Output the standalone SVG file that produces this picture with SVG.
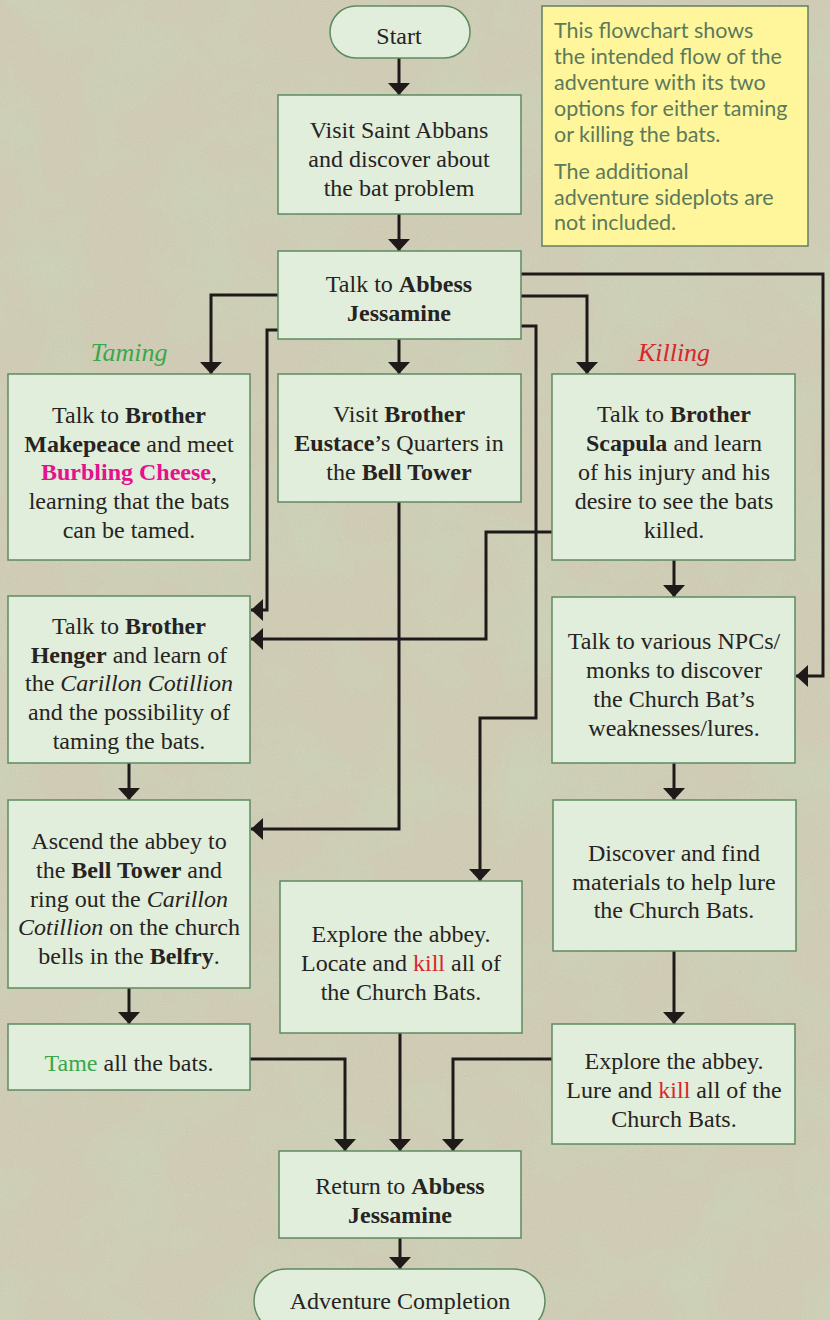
<svg xmlns="http://www.w3.org/2000/svg" width="830" height="1320" viewBox="0 0 830 1320">
<style>
.box{fill:#e0eedb;stroke:#5e8a60;stroke-width:1.5}
.note{fill:#fff59b;stroke:#628062;stroke-width:1.5}
.t{font-family:"Liberation Serif","DejaVu Serif",serif;font-size:24px;fill:#272322;text-anchor:middle}
.n{font-family:Lato,"Open Sans",sans-serif;font-size:21.5px;fill:#5b7a5c}
.b{font-weight:bold}
.i{font-style:italic}
.pink{fill:#e4128c;font-weight:bold}
.red{fill:#d8262c}
.green{fill:#3aa84a}
.lbl{font-family:"Liberation Serif","DejaVu Serif",serif;font-size:26px;font-style:italic;text-anchor:middle}
.c{fill:none;stroke:#1f1a1a;stroke-width:3;marker-end:url(#ah)}
</style>
<defs>
<marker id="ah" markerUnits="userSpaceOnUse" markerWidth="12" markerHeight="22" viewBox="0 0 12 22" refX="12" refY="11" orient="auto">
<path d="M0,0 L12,11 L0,22 Z" fill="#1f1a1a"/>
</marker>
<filter id="tex" x="0" y="0" width="100%" height="100%">
<feTurbulence type="fractalNoise" baseFrequency="0.012" numOctaves="4" seed="7" result="n"/>
<feColorMatrix in="n" type="matrix" values="0 0 0 0 0.58  0 0 0 0 0.64  0 0 0 0 0.46  0 0 0 1.8 -0.75"/>
</filter>
<filter id="grain" x="0" y="0" width="100%" height="100%">
<feTurbulence type="fractalNoise" baseFrequency="0.9" numOctaves="2" seed="2" result="g"/>
<feColorMatrix in="g" type="matrix" values="0 0 0 0 0.92  0 0 0 0 0.92  0 0 0 0 0.86  0 0 0 0.6 -0.2"/>
</filter>
</defs>
<g id="background">
<rect x="0" y="0" width="830" height="1320" fill="#cdc9b2"/>
<rect x="0" y="0" width="830" height="1320" filter="url(#tex)"/>
<rect x="0" y="0" width="830" height="1320" filter="url(#grain)" opacity="0.5"/>
</g>
<g id="connectors">
<path class="c" d="M399,58 V95"/>
<path class="c" d="M399,214 V251"/>
<path class="c" d="M399,339 V374"/>
<path class="c" d="M278,295 H211 V374"/>
<path class="c" d="M278,330 H267 V610 H251"/>
<path class="c" d="M521,274 H823 V676 H796"/>
<path class="c" d="M521,296 H587 V374"/>
<path class="c" d="M521,326 H536 V718 H480 V881"/>
<path class="c" d="M399,502 V829 H251"/>
<path class="c" d="M552,532 H486 V639 H251"/>
<path class="c" d="M674,560 V597"/>
<path class="c" d="M674,763 V800"/>
<path class="c" d="M129,763 V800"/>
<path class="c" d="M129,988 V1024"/>
<path class="c" d="M674,951 V1024"/>
<path class="c" d="M250,1059 H345 V1151"/>
<path class="c" d="M400,1033 V1151"/>
<path class="c" d="M552,1059 H453 V1151"/>
<path class="c" d="M400,1238 V1269"/>
</g>
<g id="labels">
<text class="lbl" x="129" y="361" fill="#3aa84a">Taming</text>
<text class="lbl" x="674" y="361" fill="#d8262c">Killing</text>
</g>
<g id="note">
<rect class="note" x="542" y="6" width="266" height="240"/>
<text class="n" x="554" y="38">This flowchart shows</text>
<text class="n" x="554" y="64">the intended flow of the</text>
<text class="n" x="554" y="90">adventure with its two</text>
<text class="n" x="554" y="116">options for either taming</text>
<text class="n" x="554" y="142">or killing the bats.</text>
<text class="n" x="554" y="179">The additional</text>
<text class="n" x="554" y="205">adventure sideplots are</text>
<text class="n" x="554" y="230">not included.</text>
</g>
<g id="start">
<rect class="box" x="330" y="6" width="140" height="52" rx="26"/>
<text class="t" x="399" y="44">Start</text>
</g>
<g id="visit">
<rect class="box" x="278" y="95" width="243" height="119"/>
<text class="t" x="399" y="138">Visit Saint Abbans</text>
<text class="t" x="399" y="167">and discover about</text>
<text class="t" x="399" y="196">the bat problem</text>
</g>
<g id="abbess">
<rect class="box" x="278" y="251" width="243" height="88"/>
<text class="t" x="399" y="292">Talk to <tspan class="b">Abbess</tspan></text>
<text class="t" x="399" y="321"><tspan class="b">Jessamine</tspan></text>
</g>
<g id="makepeace">
<rect class="box" x="8" y="374" width="242" height="186"/>
<text class="t" x="129" y="423">Talk to <tspan class="b">Brother</tspan></text>
<text class="t" x="129" y="452"><tspan class="b">Makepeace</tspan> and meet</text>
<text class="t" x="129" y="480"><tspan class="pink">Burbling Cheese</tspan>,</text>
<text class="t" x="129" y="509">learning that the bats</text>
<text class="t" x="129" y="538">can be tamed.</text>
</g>
<g id="eustace">
<rect class="box" x="278" y="374" width="243" height="128"/>
<text class="t" x="399" y="422">Visit <tspan class="b">Brother</tspan></text>
<text class="t" x="399" y="451"><tspan class="b">Eustace</tspan>’s Quarters in</text>
<text class="t" x="399" y="480">the <tspan class="b">Bell Tower</tspan></text>
</g>
<g id="scapula">
<rect class="box" x="552" y="374" width="243" height="186"/>
<text class="t" x="674" y="422">Talk to <tspan class="b">Brother</tspan></text>
<text class="t" x="674" y="451"><tspan class="b">Scapula</tspan> and learn</text>
<text class="t" x="674" y="480">of his injury and his</text>
<text class="t" x="674" y="509">desire to see the bats</text>
<text class="t" x="674" y="538">killed.</text>
</g>
<g id="henger">
<rect class="box" x="8" y="596" width="242" height="167"/>
<text class="t" x="129" y="634">Talk to <tspan class="b">Brother</tspan></text>
<text class="t" x="129" y="663"><tspan class="b">Henger</tspan> and learn of</text>
<text class="t" x="129" y="691">the <tspan class="i">Carillon Cotillion</tspan></text>
<text class="t" x="129" y="720">and the possibility of</text>
<text class="t" x="129" y="749">taming the bats.</text>
</g>
<g id="npcs">
<rect class="box" x="552" y="597" width="243" height="166"/>
<text class="t" x="674" y="649">Talk to various NPCs/</text>
<text class="t" x="674" y="678">monks to discover</text>
<text class="t" x="674" y="707">the Church Bat’s</text>
<text class="t" x="674" y="736">weaknesses/lures.</text>
</g>
<g id="ascend">
<rect class="box" x="8" y="800" width="242" height="188"/>
<text class="t" x="129" y="849">Ascend the abbey to</text>
<text class="t" x="129" y="878">the <tspan class="b">Bell Tower</tspan> and</text>
<text class="t" x="129" y="907">ring out the <tspan class="i">Carillon</tspan></text>
<text class="t" x="129" y="935"><tspan class="i">Cotillion</tspan> on the church</text>
<text class="t" x="129" y="964">bells in the <tspan class="b">Belfry</tspan>.</text>
</g>
<g id="discover">
<rect class="box" x="553" y="800" width="243" height="151"/>
<text class="t" x="674" y="861">Discover and find</text>
<text class="t" x="674" y="890">materials to help lure</text>
<text class="t" x="674" y="918">the Church Bats.</text>
</g>
<g id="explore-kill">
<rect class="box" x="280" y="881" width="242" height="152"/>
<text class="t" x="401" y="942">Explore the abbey.</text>
<text class="t" x="401" y="971">Locate and <tspan class="red">kill</tspan> all of</text>
<text class="t" x="401" y="1000">the Church Bats.</text>
</g>
<g id="tame">
<rect class="box" x="8" y="1024" width="242" height="66"/>
<text class="t" x="129" y="1071"><tspan class="green">Tame</tspan> all the bats.</text>
</g>
<g id="explore-lure">
<rect class="box" x="552" y="1024" width="243" height="120"/>
<text class="t" x="674" y="1069">Explore the abbey.</text>
<text class="t" x="674" y="1098">Lure and <tspan class="red">kill</tspan> all of the</text>
<text class="t" x="674" y="1127">Church Bats.</text>
</g>
<g id="return">
<rect class="box" x="279" y="1151" width="242" height="87"/>
<text class="t" x="400" y="1194">Return to <tspan class="b">Abbess</tspan></text>
<text class="t" x="400" y="1223"><tspan class="b">Jessamine</tspan></text>
</g>
<g id="completion">
<rect class="box" x="254" y="1269" width="291" height="64" rx="32"/>
<text class="t" x="400" y="1309">Adventure Completion</text>
</g>
</svg>
